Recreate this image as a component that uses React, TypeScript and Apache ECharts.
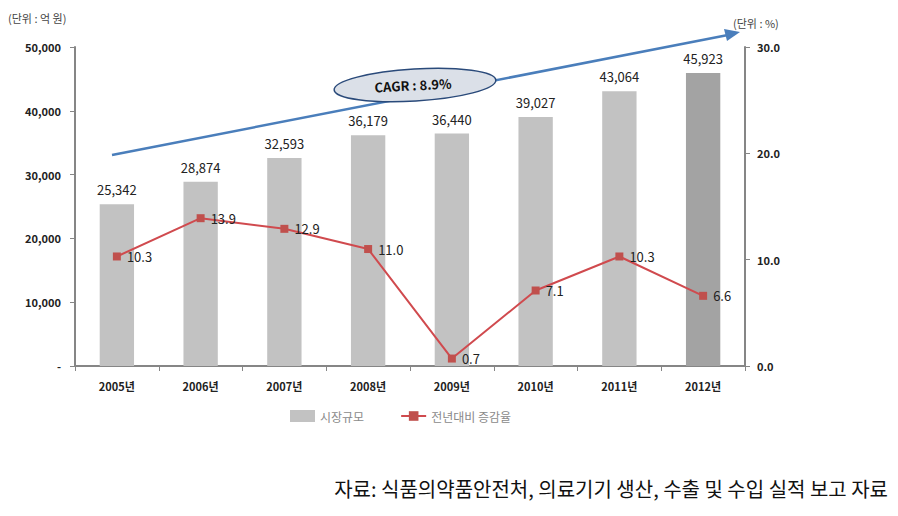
import React, { useEffect, useRef } from "react";
import * as echarts from "echarts";

const categories = ["2005년", "2006년", "2007년", "2008년", "2009년", "2010년", "2011년", "2012년"];
const marketSize = [25342, 28874, 32593, 36179, 36440, 39027, 43064, 45923];
const growthRate = [10.3, 13.9, 12.9, 11.0, 0.7, 7.1, 10.3, 6.6];
const leftTicks = ["-", "10,000", "20,000", "30,000", "40,000", "50,000"];
const barName = "시장규모";
const lineName = "전년대비 증감율";
const cagrText = "CAGR : 8.9%";
const sourceText = "자료: 식품의약품안전처, 의료기기 생산, 수출 및 수입 실적 보고 자료";

const FONT = "'Noto Sans CJK KR', 'Noto Sans', sans-serif";

export default function App() {
  const ref = useRef<HTMLDivElement>(null);
  useEffect(() => {
    if (!ref.current) return;
    const chart = echarts.init(ref.current, undefined, { renderer: "svg" });
    chart.setOption({
      animation: false,
      backgroundColor: "#ffffff",
      textStyle: { fontFamily: FONT },
      grid: { left: 75, right: 153, top: 47, bottom: 150, containLabel: false },
      legend: {
        left: 285,
        top: 405,
        itemGap: 36,
        itemWidth: 25,
        itemHeight: 12,
        textStyle: { color: "#8a8a8a", fontSize: 12, fontFamily: FONT },
        data: [
          { name: barName, icon: "rect" },
          { name: lineName },
        ],
      },
      xAxis: {
        type: "category",
        data: categories,
        axisLine: { lineStyle: { color: "#868686", width: 2 } },
        axisTick: { show: true, alignWithLabel: false, length: 5, lineStyle: { color: "#868686" } },
        axisLabel: { color: "#222", fontSize: 11, fontWeight: "bold", margin: 14, fontFamily: FONT },
      },
      yAxis: [
        {
          type: "value",
          min: 0,
          max: 50000,
          interval: 10000,
          axisLine: { show: true, lineStyle: { color: "#868686", width: 2 } },
          axisTick: { show: true, inside: false, length: 5, lineStyle: { color: "#868686" } },
          splitLine: { show: false },
          axisLabel: {
            color: "#222",
            fontSize: 11,
            fontWeight: "bold",
            margin: 14,
            fontFamily: FONT,
            formatter: (v: number) => leftTicks[Math.round(v / 10000)],
          },
        },
        {
          type: "value",
          min: 0,
          max: 30,
          interval: 10,
          position: "right",
          axisLine: { show: true, lineStyle: { color: "#868686", width: 2 } },
          axisTick: { show: true, inside: false, length: 5, lineStyle: { color: "#868686" } },
          splitLine: { show: false },
          axisLabel: {
            color: "#222",
            fontSize: 11,
            fontWeight: "bold",
            margin: 12,
            fontFamily: FONT,
            formatter: (v: number) => v.toFixed(1),
          },
        },
      ],
      series: [
        {
          name: barName,
          type: "bar",
          yAxisIndex: 0,
          barWidth: "41%",
          itemStyle: { color: "#c2c2c2" },
          data: marketSize.map((v, i) => ({
            value: v,
            itemStyle: { color: i === marketSize.length - 1 ? "#a3a3a3" : "#c2c2c2" },
          })),
          label: {
            show: true,
            position: "top",
            distance: 8,
            color: "#222",
            fontSize: 13,
            fontFamily: FONT,
            formatter: (p: any) => Number(p.value).toLocaleString("en-US"),
          },
        },
        {
          name: lineName,
          type: "line",
          yAxisIndex: 1,
          data: growthRate,
          symbol: "rect",
          symbolSize: 8,
          lineStyle: { color: "#d04a4e", width: 2 },
          itemStyle: { color: "#c0504d" },
          label: {
            show: true,
            position: "right",
            distance: 6,
            color: "#222",
            fontSize: 13,
            fontFamily: FONT,
            formatter: (p: any) => Number(p.value).toFixed(1),
          },
        },
      ],
      graphic: [
        {
          type: "text",
          left: 8,
          top: 12,
          style: { text: "(단위 : 억 원)", fill: "#444", fontSize: 11, fontFamily: FONT },
        },
        {
          type: "text",
          left: 733,
          top: 17,
          style: { text: "(단위 : %)", fill: "#444", fontSize: 11, fontFamily: FONT },
        },
        {
          type: "line",
          shape: { x1: 112, y1: 155, x2: 728, y2: 35 },
          style: { stroke: "#4a7ebb", lineWidth: 2.5 },
          z: 10,
        },
        {
          type: "polygon",
          shape: { points: [[740, 32], [724, 29], [727, 41]] },
          style: { fill: "#4a7ebb" },
          z: 10,
        },
        {
          type: "ellipse",
          x: 415,
          y: 85,
          rotation: 0.06,
          shape: { cx: 0, cy: 0, rx: 81, ry: 16 },
          style: { fill: "#dbe0e8", stroke: "#2a4a7a", lineWidth: 1.5 },
          z: 11,
        },
        {
          type: "text",
          x: 413,
          y: 85,
          rotation: 0.05,
          style: {
            text: cagrText,
            fill: "#111",
            fontSize: 13,
            fontWeight: "bold",
            fontFamily: FONT,
            align: "center",
            verticalAlign: "middle",
          },
          z: 12,
        },
        {
          type: "text",
          right: 10,
          top: 478,
          style: {
            text: sourceText,
            fill: "#111",
            fontSize: 20,
            fontFamily: FONT,
          },
        },
      ],
    });
    return () => chart.dispose();
  }, []);
  return (
    <div
      ref={ref}
      style={{ position: "fixed", left: 0, top: 0, width: 898, height: 516 }}
    />
  );
}
